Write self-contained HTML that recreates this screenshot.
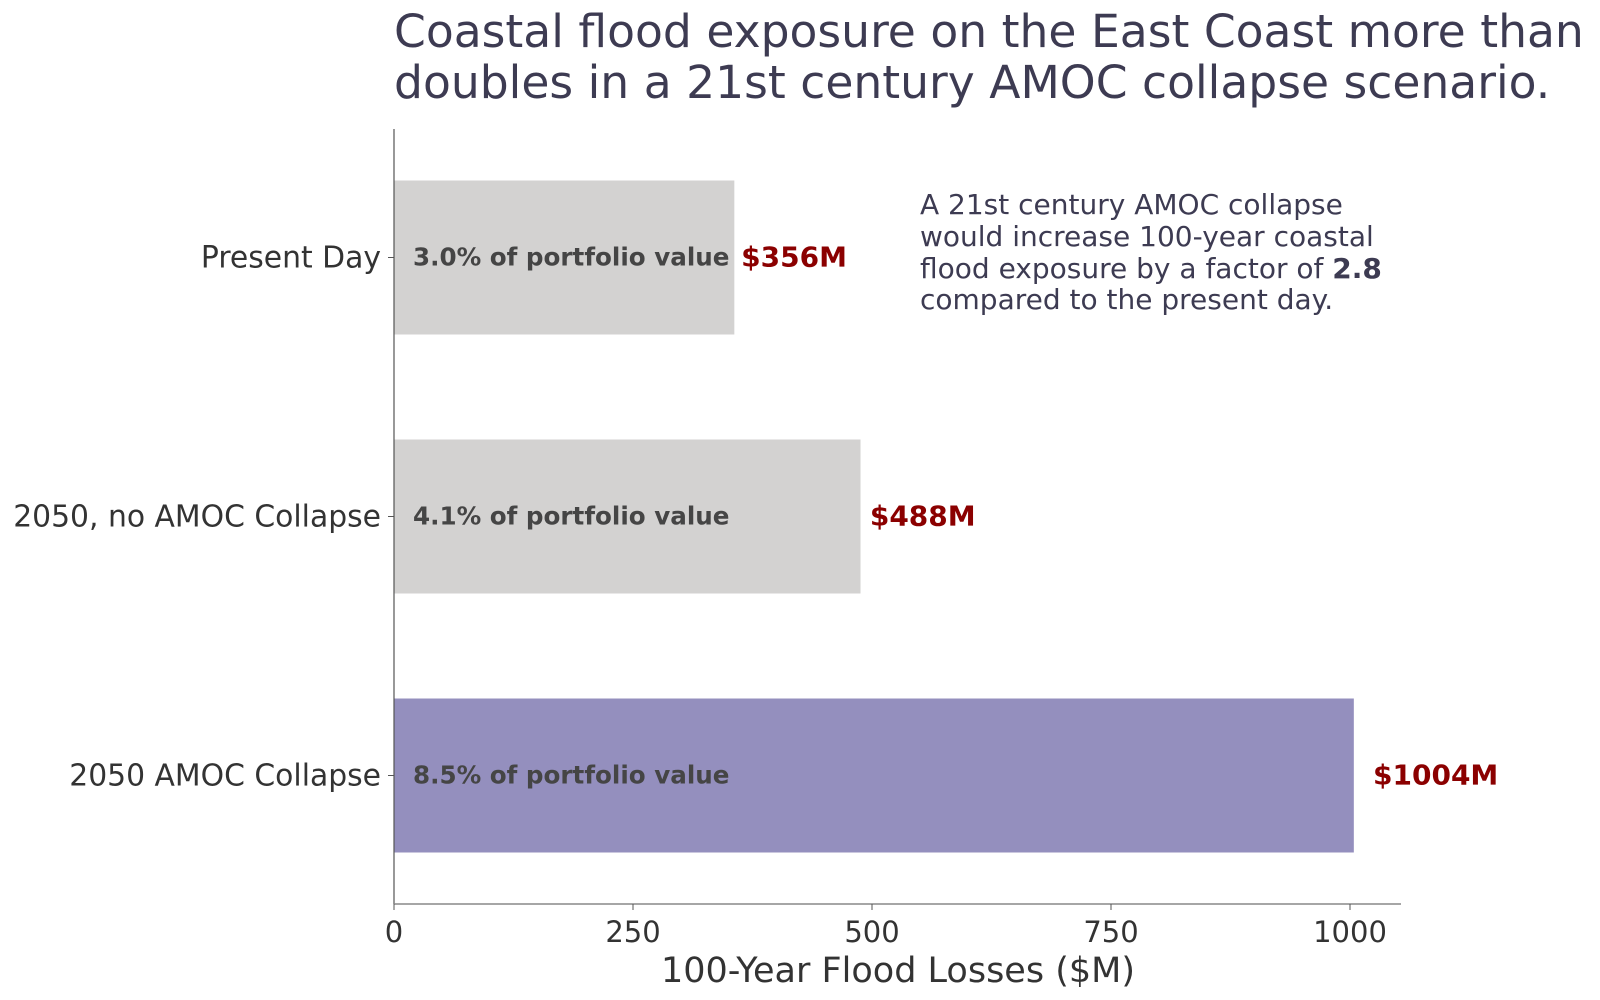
<!DOCTYPE html>
<html><head><meta charset="utf-8"><style>
html,body{margin:0;padding:0;background:#fff;}
svg{display:block;font-family:"DejaVu Sans","Liberation Sans",sans-serif;}
</style></head><body>
<svg id="chart" width="1600" height="1000" viewBox="0 0 1600 1000" xmlns="http://www.w3.org/2000/svg">
<g fill="#3d3b52" font-size="45.6">
<text x="394" y="47">Coastal flood exposure on the East Coast more than</text>
<text x="394" y="98">doubles in a 21st century AMOC collapse scenario.</text>
</g>
<g id="plot"></g>
<g fill="#3d3b52" font-size="28">
<text x="920" y="214">A 21st century AMOC collapse</text>
<text x="920" y="246">would increase 100-year coastal</text>
<text x="920" y="278">flood exposure by a factor of <tspan font-weight="bold">2.8</tspan></text>
<text x="920" y="309">compared to the present day.</text>
</g>
<text x="898" y="982" text-anchor="middle" font-size="35" fill="#333">100-Year Flood Losses ($M)</text>
</svg>
<script>
const categories = ["Present Day", "2050, no AMOC Collapse", "2050 AMOC Collapse"];
const losses = [356, 488, 1004];
const portfolioPct = ["3.0%", "4.1%", "8.5%"];
const barColors = ["#d3d2d1", "#d3d2d1", "#948fbe"];
const xTicks = [0, 250, 500, 750, 1000];

const NS = "http://www.w3.org/2000/svg";
const plot = document.getElementById("plot");
const x0 = 394, xScale = (1350 - 394) / 1000;
const xAxisY = 904, top0 = 129;
function xPos(v){ return x0 + v * xScale; }
function yCenter(i){ return 257.5 + i * 259; }
const barH = 154;
function mk(tag, attrs){ const e = document.createElementNS(NS, tag); for (const k in attrs) e.setAttribute(k, attrs[k]); plot.appendChild(e); return e; }

categories.forEach((c, i) => {
  const yc = yCenter(i);
  const r = mk("rect", {x: x0, y: yc - barH/2, width: xPos(losses[i]) - x0, height: barH, fill: barColors[i]});
  
  
  const t = mk("text", {x: 413, y: yc + 8, "font-size": 24.6, "font-weight": "bold", fill: "#454545"});
  t.textContent = portfolioPct[i] + " of portfolio value";
  
  
  const v = mk("text", {x: xPos(losses[i] * 1.02), y: yc + 9, "font-size": 28, "font-weight": "bold", fill: "#8b0000"});
  v.textContent = "$" + losses[i] + "M";
  
  
  const tk = mk("line", {x1: x0 - 6, x2: x0, y1: yc, y2: yc, stroke: "#555", "stroke-width": 1});
  
  
  const lb = mk("text", {x: x0 - 13, y: yc + 10, "text-anchor": "end", "font-size": 29.8, fill: "#333"});
  lb.textContent = c;
  
  
});

const ys = mk("line", {x1: x0, x2: x0, y1: top0, y2: xAxisY, stroke: "#555", "stroke-width": 1.2});


const xs = mk("line", {x1: x0, x2: 1401, y1: xAxisY, y2: xAxisY, stroke: "#888", "stroke-width": 1.5});


xTicks.forEach(v => {
  const tk = mk("line", {x1: xPos(v), x2: xPos(v), y1: xAxisY, y2: xAxisY + 6, stroke: "#555", "stroke-width": 1});
  
  
  const t = mk("text", {x: xPos(v), y: 942, "text-anchor": "middle", "font-size": 29, fill: "#333"});
  t.textContent = v;
  
  
});
</script>
</body></html>
